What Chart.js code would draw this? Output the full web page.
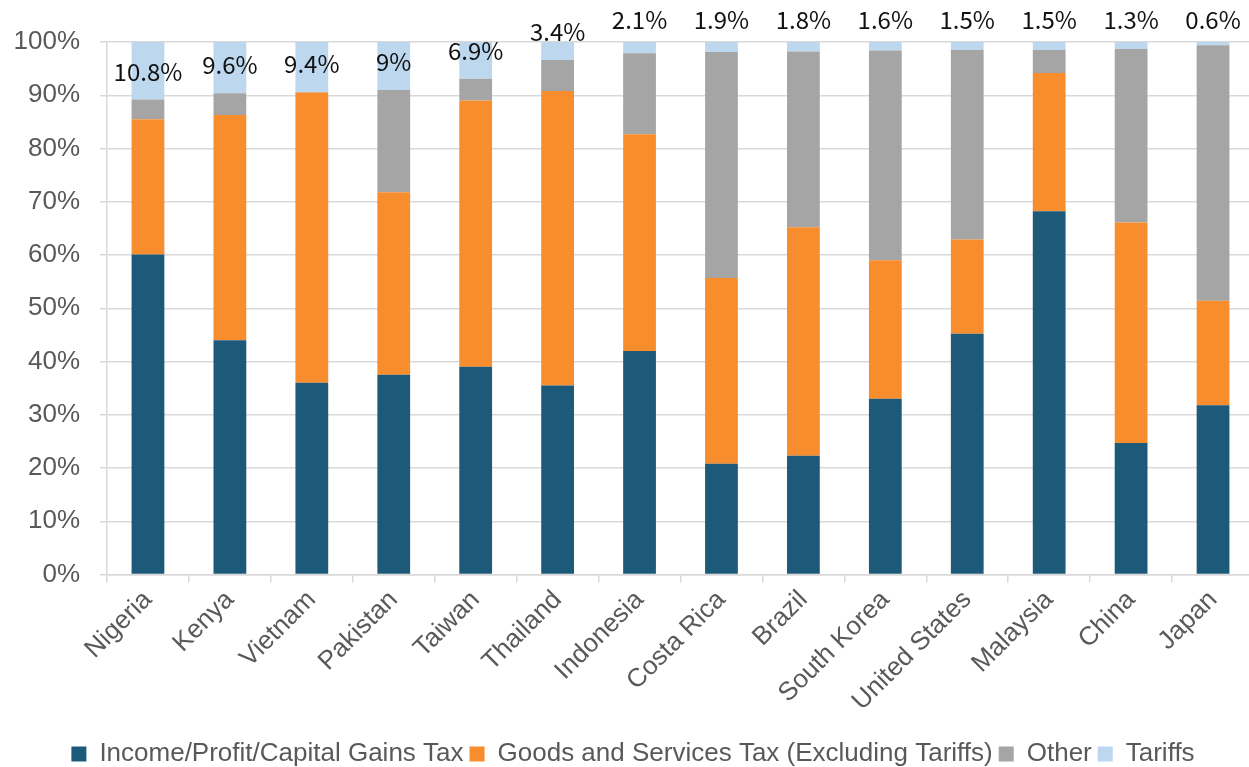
<!DOCTYPE html>
<html>
<head>
<meta charset="utf-8">
<script src="https://cdn.jsdelivr.net/npm/chart.js@4.4.1/dist/chart.umd.min.js"></script>
<style>
  html, body { margin: 0; padding: 0; background: #fff; overflow: hidden; }
  #wrap { position: absolute; left: 0; top: 0; width: 1254px; height: 767px; }
</style>
</head>
<body>
<div id="wrap"><canvas id="c" width="1254" height="767"></canvas></div>
<script>
const categories = ["Nigeria", "Kenya", "Vietnam", "Pakistan", "Taiwan", "Thailand", "Indonesia",
  "Costa Rica", "Brazil", "South Korea", "United States", "Malaysia", "China", "Japan"];
const incomeTax = [60.1, 44.0, 36.0, 37.5, 39.0, 35.5, 42.0, 20.8, 22.3, 33.0, 45.2, 68.2, 24.7, 31.8];
const goodsTax  = [25.4, 42.3, 54.5, 34.3, 50.0, 55.3, 40.7, 34.9, 42.9, 26.0, 17.7, 26.0, 41.4, 19.6];
const otherTax  = [3.7, 4.1, 0.1, 19.2, 4.1, 5.8, 15.2, 42.4, 33.0, 39.4, 35.6, 4.3, 32.6, 48.0];
const tariffs   = [10.8, 9.6, 9.4, 9, 6.9, 3.4, 2.1, 1.9, 1.8, 1.6, 1.5, 1.5, 1.3, 0.6];
const yTicks = [0, 10, 20, 30, 40, 50, 60, 70, 80, 90, 100];
const seriesNames = ["Income/Profit/Capital Gains Tax", "Goods and Services Tax (Excluding Tariffs)", "Other", "Tariffs"];

const TXT = "#595959";
const FONT = "'Liberation Sans', Arial, sans-serif";

const tariffLabels = {
  id: 'tariffLabels',
  afterDatasetsDraw(chart) {
    const ctx = chart.ctx;
    const meta = chart.getDatasetMeta(3);
    const top = chart.chartArea.top;
    ctx.save();
    ctx.font = "24px 'Noto Sans CJK JP', 'Noto Sans', sans-serif";
    ctx.fillStyle = "#111";
    ctx.textAlign = "center";
    ctx.textBaseline = "middle";
    meta.data.forEach((bar, i) => {
      let y = bar.base - 28;
      if (y < top - 10) y = top - 22;
      ctx.fillText(String(tariffs[i]) + "%", bar.x, y);
    });
    ctx.restore();
  }
};

new Chart(document.getElementById('c'), {
  type: 'bar',
  data: {
    labels: categories,
    datasets: [
      { label: seriesNames[0], data: incomeTax, backgroundColor: "#1d5a7a" },
      { label: seriesNames[1], data: goodsTax, backgroundColor: "#f78d2d" },
      { label: seriesNames[2], data: otherTax, backgroundColor: "#a5a5a5" },
      { label: seriesNames[3], data: tariffs, backgroundColor: "#bdd7ee" }
    ]
  },
  options: {
    responsive: false,
    animation: false,
    devicePixelRatio: 1,
    datasets: { bar: { barPercentage: 0.4, categoryPercentage: 1.0, borderWidth: 0 } },
    layout: { padding: { top: 42, left: 12, right: 0, bottom: -10 } },
    plugins: {
      legend: {
        position: 'bottom',
        labels: {
          font: { family: FONT, size: 26 },
          color: TXT,
          boxWidth: 15, boxHeight: 15,
          padding: 6
        }
      },
      tooltip: { enabled: false },
      title: { display: false }
    },
    scales: {
      x: {
        stacked: true,
        afterFit(scale) { scale.height += 16; },
        grid: { display: true, drawOnChartArea: false, drawTicks: true, offset: true, tickLength: 8, color: "#d9d9d9", lineWidth: 1.5 },
        border: { display: true, color: "#d9d9d9", width: 1.5 },
        ticks: { font: { family: FONT, size: 26 }, color: TXT, maxRotation: 45, minRotation: 45, padding: 2, autoSkip: false }
      },
      y: {
        stacked: true,
        min: 0, max: 100,
        afterBuildTicks(scale) { scale.ticks = yTicks.map(v => ({ value: v })); },
        afterFit(scale) { scale.width = 95; },
        grid: { color: "#d9d9d9", lineWidth: 1.5, tickLength: 7 },
        border: { display: true, color: "#d9d9d9", width: 1.5 },
        ticks: { font: { family: FONT, size: 26 }, color: TXT, padding: 20, callback: v => v + "%" }
      }
    }
  },
  plugins: [tariffLabels]
});
</script>
</body>
</html>
